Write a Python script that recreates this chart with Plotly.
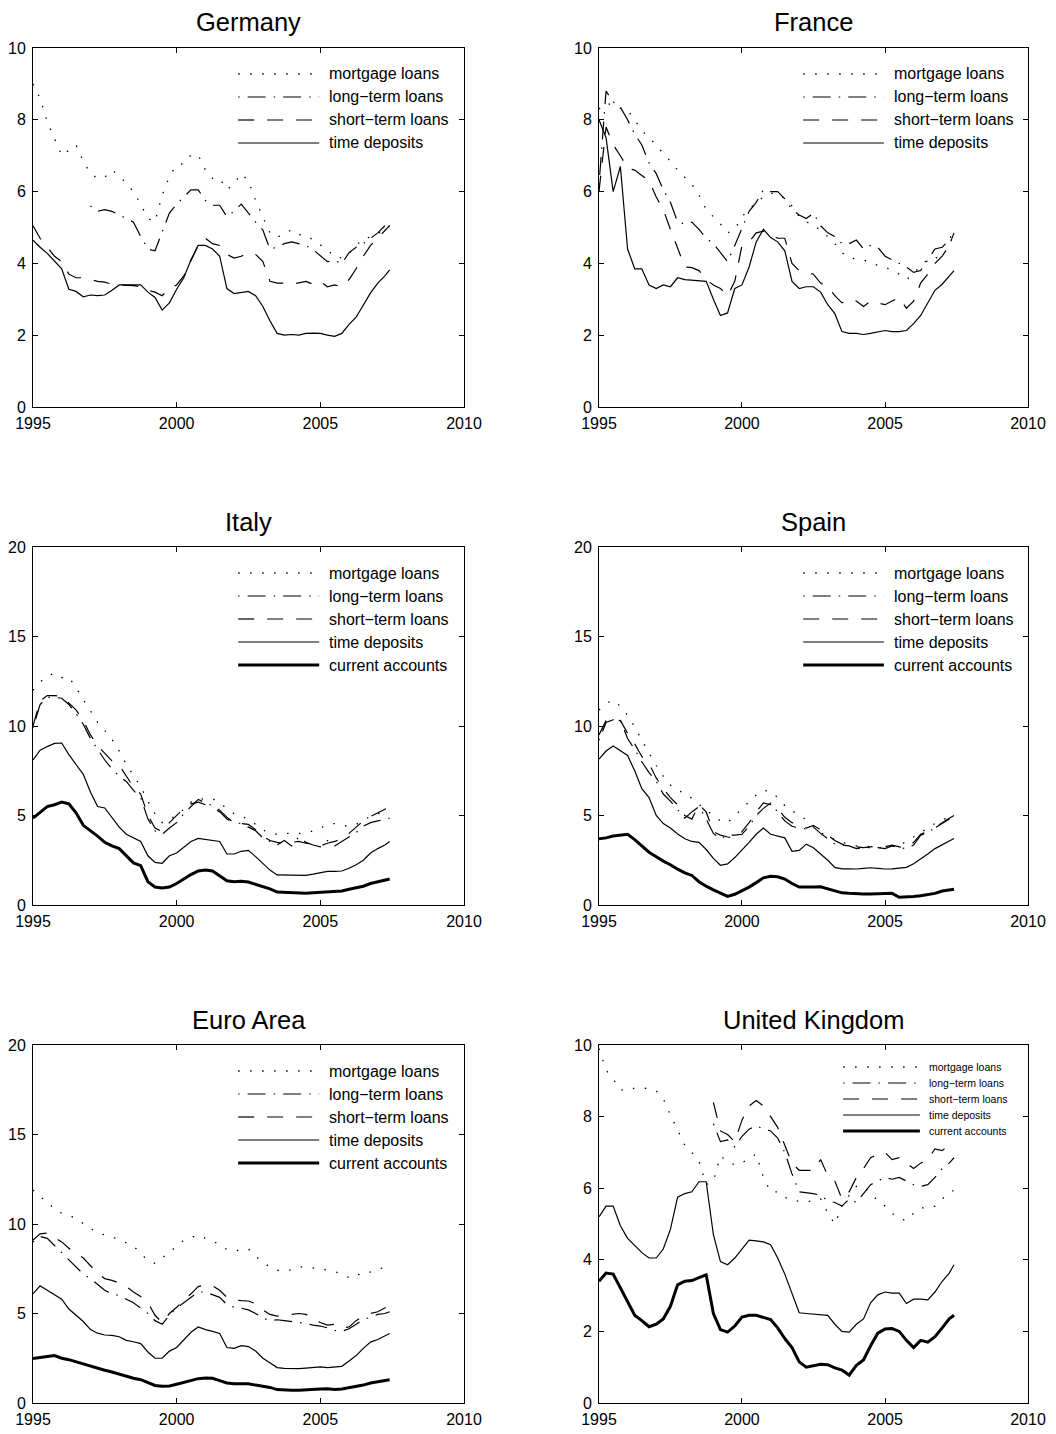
import pandas as pd
import plotly.graph_objects as go

# ---------------- data ----------------
dates = list(pd.date_range("1995-01-01", "2007-04-01", freq="QS").strftime("%Y-%m-%d")) + ["2007-06-01"]

x_tick_vals = ["1995-01-01", "2000-01-01", "2005-01-01", "2010-01-01"]
x_tick_text = ["1995", "2000", "2005", "2010"]

series_labels = {
    "mortgage": "mortgage loans",
    "long": "long\u2212term loans",
    "short": "short\u2212term loans",
    "time": "time deposits",
    "current": "current accounts",
}

# Germany
de_mortgage = [9.0, 8.6, 7.95, 7.5, 7.0, 7.15, 7.3, 6.85, 6.5, 6.37,
               6.4, 6.6, 6.45, 6.22, 6.0, 5.65, 5.25, 5.16, 5.9, 6.42,
               6.74, 6.78, 7.02, 7.02, 6.6, 6.37, 6.37, 6.05, 6.22, 6.5,
               6.3, 5.75, 5.3, 4.85, 4.72, 4.85, 4.93, 4.8, 4.79, 4.65,
               4.5, 4.38, 4.18, 4.15, 4.28, 4.5, 4.7, 4.73, 4.82, 4.97,
               5.05]
de_long = [None, None, None, None, None, None, None, None, 5.6, 5.45,
           5.5, 5.45, 5.35, 5.25, 5.15, 4.75, 4.4, 4.35, 4.9, 5.4,
           5.65, 5.85, 6.05, 6.05, 5.75, 5.62, 5.62, 5.3, 5.45, 5.65,
           5.4, 5.15, 4.93, 4.4, 4.45, 4.55, 4.6, 4.55, 4.5, 4.38,
           4.22, 4.05, 4.08, 4.0, 4.3, 4.45, 4.55, 4.7, 4.85, 5.05,
           5.1]
de_short = [5.05, 4.7, 4.45, 4.2, 4.05, 3.7, 3.6, 3.6, 3.55, 3.5,
            3.48, 3.42, 3.4, 3.4, 3.38, 3.35, 3.25, 3.2, 3.1, 3.3,
            3.4, 3.65, 4.05, 4.5, 4.7, 4.55, 4.5, 4.25, 4.15, 4.2,
            4.3, 4.25, 4.05, 3.5, 3.45, 3.45, 3.42, 3.45, 3.5, 3.42,
            3.5, 3.35, 3.4, 3.35, 3.55, 3.85, 4.2, 4.5, 4.7, 4.9,
            5.05]
de_time = [4.65, 4.45, 4.28, 4.05, 3.85, 3.28, 3.22, 3.07, 3.12, 3.1,
           3.12, 3.25, 3.4, 3.4, 3.4, 3.4, 3.2, 3.05, 2.7, 2.9,
           3.28, 3.6, 4.1, 4.5, 4.5, 4.4, 4.2, 3.3, 3.16, 3.18,
           3.22, 3.1, 2.8, 2.4, 2.05, 2.0, 2.02, 2.0, 2.05, 2.06,
           2.05, 2.0, 1.97, 2.05, 2.3, 2.5, 2.85, 3.18, 3.45, 3.65,
           3.82]

# France
fr_mortgage = [8.3, 8.47, 8.4, 8.32, 8.28, 8.0, 7.7, 7.5, 7.3, 7.05,
               6.85, 6.6, 6.4, 6.2, 5.9, 5.5, 5.3, 5.1, 4.85, 4.95,
               5.3, 5.5, 5.7, 5.85, 5.95, 5.95, 5.8, 5.6, 5.3, 5.15,
               5.1, 4.9, 4.75, 4.55, 4.3, 4.15, 4.12, 4.1, 4.0, 3.95,
               3.9, 3.8, 3.7, 3.55, 3.7, 3.95, 4.1, 4.15, 4.2, 4.5,
               4.85]
fr_long = [6.2, 8.8, 8.5, 8.35, 8.0, 7.6, 7.3, 6.8, 6.5, 6.05,
           5.7, 5.15, 5.1, 5.15, 4.95, 4.7, 4.55, 4.3, 4.05, 4.5,
           5.0, 5.45, 5.7, 6.05, 6.0, 6.0, 5.8, 5.5, 5.35, 5.25,
           5.4, 5.05, 4.85, 4.75, 4.55, 4.55, 4.65, 4.4, 4.5, 4.45,
           4.2, 4.1, 4.0, 3.9, 3.75, 3.8, 4.1, 4.4, 4.45, 4.65,
           4.95]
fr_short = [6.0, 7.8, 7.3, 7.0, 6.65, 6.6, 6.45, 6.3, 5.85, 5.5,
            4.95, 4.4, 3.9, 3.88, 3.8, 3.55, 3.4, 3.3, 3.1, 3.5,
            4.5, 4.6, 4.85, 4.9, 4.8, 4.7, 4.7, 4.0, 3.8, 3.75,
            3.7, 3.45, 3.35, 3.1, 2.9, 3.0, 2.95, 2.8, 2.95, 2.9,
            2.85, 2.95, 3.05, 2.75, 2.95, 3.45, 3.7, 4.0, 4.2, 4.5,
            4.85]
fr_time = [8.0, 7.5, 6.0, 6.7, 4.4, 3.85, 3.85, 3.4, 3.3, 3.4,
           3.35, 3.6, 3.55, 3.53, 3.5, 3.5, 3.0, 2.55, 2.62, 3.3,
           3.4, 3.9, 4.6, 4.95, 4.72, 4.6, 4.35, 3.5, 3.3, 3.35,
           3.35, 3.2, 2.85, 2.6, 2.1, 2.05, 2.05, 2.02, 2.05, 2.1,
           2.13, 2.1, 2.1, 2.13, 2.32, 2.55, 2.88, 3.25, 3.42, 3.65,
           3.8]

# Italy
it_mortgage = [12.0, 12.45, 12.8, 12.95, 12.7, 12.72, 12.15, 11.45, 10.85, 10.2,
               9.75, 9.25, 8.6, 7.85, 7.25, 6.6, 5.8, 5.1, 4.6, 4.8,
               5.0, 5.35, 5.75, 5.95, 5.9, 5.95, 5.7, 5.4, 5.1, 4.95,
               4.8, 4.5, 4.2, 4.0, 3.95, 4.0, 4.0, 4.0, 4.0, 4.15,
               4.3, 4.5, 4.55, 4.45, 4.4, 4.5, 4.75, 4.95, 5.1, 5.2,
               5.3]
it_long = [9.9, 11.2, 11.6, 11.6, 11.55, 11.2, 10.7, 10.1, 9.3, 8.7,
           8.1, 7.6, 7.2, 6.9, 6.4, 6.0, 4.8, 4.15, 3.95, 4.3,
           4.6, 5.1, 5.5, 5.9, 5.7, 5.55, 5.3, 4.9, 4.6, 4.55,
           4.35, 4.15, 3.75, 3.55, 3.35, 3.6, 3.3, 3.8, 3.5, 3.35,
           3.25, 3.6, 3.3, 3.55, 3.8, 4.05, 4.4, 4.6, 4.7, 4.8,
           4.85]
it_short = [10.0, 11.4, 11.7, 11.7, 11.65, 11.3, 10.9, 10.3, 9.5, 8.9,
            8.5, 8.05, 7.8, 7.2, 6.6, 6.2, 5.0, 4.3, 4.1, 4.6,
            5.0, 5.4, 5.65, 5.75, 5.6, 5.45, 5.2, 4.8, 4.6, 4.55,
            4.5, 4.2, 3.85, 3.6, 3.5, 3.45, 3.5, 3.55, 3.45, 3.4,
            3.3, 3.45, 3.55, 3.7, 4.0, 4.35, 4.7, 4.95, 5.15, 5.35,
            5.55]
it_time = [8.1, 8.65, 8.85, 9.03, 9.05, 8.4, 7.85, 7.3, 6.3, 5.5,
           5.42, 4.85, 4.35, 3.95, 3.75, 3.55, 2.75, 2.38, 2.33, 2.75,
           2.9, 3.2, 3.55, 3.72, 3.65, 3.62, 3.55, 2.85, 2.85, 3.0,
           3.05, 2.7, 2.3, 1.95, 1.68, 1.67, 1.65, 1.64, 1.66, 1.72,
           1.8, 1.88, 1.88, 1.9, 2.05, 2.25, 2.5, 2.9, 3.15, 3.35,
           3.55]
it_current = [4.85, 5.2, 5.5, 5.6, 5.75, 5.65, 5.15, 4.45, 4.15, 3.85,
              3.5, 3.3, 3.15, 2.75, 2.35, 2.2, 1.3, 1.0, 0.95, 1.0,
              1.2, 1.45, 1.7, 1.9, 1.95, 1.9, 1.65, 1.35, 1.3, 1.32,
              1.28, 1.15, 1.0, 0.9, 0.72, 0.7, 0.68, 0.67, 0.66, 0.68,
              0.7, 0.7, 0.72, 0.78, 0.88, 0.95, 1.05, 1.2, 1.3, 1.4,
              1.45]

# Spain
es_mortgage = [10.9, 11.25, 11.45, 11.1, 10.6, 9.95, 9.2, 8.5, 7.8, 7.2,
               6.7, 6.4, 6.25, 5.95, 5.6, 5.3, 5.0, 4.7, 4.6, 5.0,
               5.4, 5.75, 6.15, 6.4, 6.35, 6.0, 5.55, 5.25, 5.05, 4.75,
               4.4, 4.05, 3.85, 3.65, 3.5, 3.4, 3.3, 3.3, 3.25, 3.2,
               3.2, 3.3, 3.4, 3.5, 3.8, 4.05, 4.3, 4.55, 4.75, 4.9,
               5.0]
es_long = [9.2, 10.2, 10.35, 10.35, 9.3, 8.7, 8.0, 7.4, 6.9, 6.2,
           5.8, 5.3, 4.85, 5.2, 5.5, 4.8, 4.0, 3.7, 3.9, 3.9,
           3.95, 4.4, 5.0, 5.4, 5.7, 5.2, 4.7, 4.4, 4.3, 4.25,
           4.35, 4.0, 3.7, 3.4, 3.35, 3.3, 3.15, 3.2, 3.2, 3.2,
           3.15, 3.3, 3.2, 3.15, 3.35, 3.9, 4.05, 4.35, 4.6, 4.85,
           5.0]
es_short = [9.5, 10.3, 10.4, 10.3, 9.6, 9.0, 8.3, 7.9, 7.1, 6.5,
            6.0, 5.6, 5.0, 4.8, 5.6, 5.2, 4.1, 3.9, 3.8, 3.75,
            4.1, 4.6, 5.2, 5.7, 5.6, 5.4, 4.9, 4.6, 4.5, 4.3,
            4.45, 4.2, 3.9, 3.6, 3.4, 3.35, 3.25, 3.2, 3.25, 3.3,
            3.25, 3.35, 3.25, 3.2, 3.5, 3.95, 4.1, 4.3, 4.55, 4.8,
            5.05]
es_time = [8.15, 8.6, 8.88, 8.6, 8.35, 7.5, 6.5, 6.0, 5.0, 4.55,
           4.3, 3.97, 3.7, 3.55, 3.5, 3.1, 2.6, 2.22, 2.3, 2.65,
           3.05, 3.5, 3.95, 4.3, 3.95, 3.85, 3.75, 3.0, 3.05, 3.4,
           3.2, 2.85, 2.5, 2.1, 2.02, 2.02, 2.01, 2.05, 2.08, 2.05,
           2.01, 2.02, 2.05, 2.1, 2.3, 2.55, 2.85, 3.15, 3.35, 3.55,
           3.72]
es_current = [3.7, 3.75, 3.85, 3.9, 3.95, 3.65, 3.3, 2.95, 2.7, 2.45,
              2.25, 2.0, 1.8, 1.65, 1.3, 1.05, 0.85, 0.65, 0.48, 0.6,
              0.8, 1.0, 1.25, 1.52, 1.6, 1.58, 1.45, 1.2, 1.0, 0.98,
              1.0, 1.02, 0.9, 0.78, 0.68, 0.65, 0.62, 0.62, 0.62, 0.64,
              0.65, 0.65, 0.43, 0.43, 0.47, 0.52, 0.58, 0.65, 0.78, 0.85,
              0.88]

# Euro Area
ea_mortgage = [11.9, 11.5, 11.3, 10.8, 10.6, 10.5, 10.3, 10.0, 9.75, 9.5,
               9.4, 9.28, 9.12, 8.95, 8.78, 8.35, 7.95, 7.8, 8.1, 8.4,
               8.75, 9.1, 9.25, 9.38, 9.2, 9.05, 8.85, 8.57, 8.5, 8.55,
               8.6, 8.2, 7.85, 7.6, 7.42, 7.35, 7.45, 7.6, 7.6, 7.55,
               7.5, 7.42, 7.35, 7.2, 7.0, 7.2, 7.15, 7.33, 7.5, 7.55,
               7.6]
ea_long = [9.0, 9.3, 9.2, 8.8, 8.4, 8.0, 7.6, 7.2, 6.95, 6.6,
           6.3, 6.1, 6.0, 5.8, 5.6, 5.3, 5.0, 4.6, 4.4, 4.9,
           5.3, 5.6, 5.9, 6.2, 6.2, 6.05, 5.9, 5.5, 5.35, 5.3,
           5.2, 5.0, 4.75, 4.6, 4.65, 4.6, 4.55, 4.5, 4.45, 4.35,
           4.3, 4.2, 4.05, 4.0, 4.15, 4.4, 4.65, 4.8, 4.95, 5.0,
           5.1]
ea_short = [9.1, 9.45, 9.5, 9.25, 9.0, 8.65, 8.35, 8.1, 7.7, 7.25,
            6.95, 6.85, 6.7, 6.5, 6.2, 5.95, 5.6, 4.9, 4.5, 5.0,
            5.35, 5.7, 6.1, 6.5, 6.6, 6.55, 6.3, 5.9, 5.75, 5.72,
            5.7, 5.55, 5.2, 4.95, 4.85, 4.9, 4.95, 5.0, 4.95, 4.7,
            4.5, 4.35, 4.4, 4.2, 4.25, 4.6, 4.85, 5.0, 5.1, 5.3,
            5.45]
ea_time = [6.1, 6.55, 6.3, 6.05, 5.8, 5.25, 4.9, 4.55, 4.1, 3.9,
           3.8, 3.78, 3.7, 3.5, 3.42, 3.32, 2.85, 2.5, 2.5, 2.9,
           3.1, 3.5, 3.95, 4.25, 4.1, 4.0, 3.88, 3.1, 3.05, 3.2,
           3.15, 2.9, 2.5, 2.25, 1.98, 1.93, 1.92, 1.92, 1.95, 2.0,
           2.02, 1.98, 2.0, 2.05, 2.35, 2.65, 3.05, 3.4, 3.55, 3.75,
           3.88]
ea_current = [2.48, 2.52, 2.6, 2.65, 2.5, 2.42, 2.3, 2.2, 2.05, 1.92,
              1.83, 1.73, 1.6, 1.5, 1.38, 1.3, 1.12, 0.98, 0.93, 0.95,
              1.05, 1.15, 1.27, 1.36, 1.4, 1.38, 1.25, 1.12, 1.08, 1.08,
              1.08, 1.0, 0.93, 0.87, 0.75, 0.72, 0.71, 0.71, 0.72, 0.75,
              0.78, 0.8, 0.76, 0.78, 0.85, 0.92, 1.0, 1.12, 1.2, 1.27,
              1.3]

# United Kingdom
uk_mortgage = [9.9, 9.3, 9.05, 8.75, 8.72, 8.8, 8.8, 8.78, 8.72, 8.5,
               8.05, 7.6, 7.2, 7.0, 6.75, 6.1, 6.2, 6.9, 6.75, 6.65,
               6.7, 6.85, 6.95, 6.3, 5.9, 5.9, 5.75, 5.65, 5.63, 5.63,
               5.63, 5.7, 5.3, 5.0, 5.5, 5.8, 6.05, 6.05, 5.85, 5.65,
               5.5, 5.3, 5.15, 5.1, 5.3, 5.45, 5.45, 5.5, 5.7, 5.85,
               5.95]
uk_long = [None, None, None, None, None, None, None, None, None, None,
           None, None, None, None, None, None, 7.8, 7.3, 7.35, 7.15,
           7.45, 7.65, 7.75, 7.65, 7.6, 7.4, 7.0, 6.4, 5.9, 5.88,
           5.85, 5.8, 5.65, 5.6, 5.5, 5.7, 5.6, 5.85, 6.1, 6.2,
           6.3, 6.25, 6.3, 6.2, 6.1, 6.05, 6.1, 6.3, 6.55, 6.7,
           6.85]
uk_short = [None, None, None, None, None, None, None, None, None, None,
            None, None, None, None, None, None, 8.4, 7.6, 7.5, 7.3,
            7.9, 8.3, 8.45, 8.3, 8.0, 7.7, 7.2, 6.7, 6.5, 6.5,
            6.5, 6.8, 6.35, 6.2, 5.7, 5.9, 6.3, 6.55, 6.85, 6.95,
            7.0, 6.8, 6.85, 6.7, 6.55, 6.7, 6.8, 7.1, 7.05, 7.2,
            7.2]
uk_time = [5.2, 5.5, 5.5, 4.95, 4.6, 4.4, 4.2, 4.05, 4.05, 4.3,
           4.85, 5.75, 5.85, 5.9, 6.18, 6.18, 4.7, 3.95, 3.86, 4.05,
           4.3, 4.55, 4.53, 4.5, 4.42, 4.05, 3.6, 3.05, 2.52, 2.5,
           2.48, 2.47, 2.45, 2.2, 2.0, 1.98, 2.2, 2.35, 2.8, 3.02,
           3.1, 3.07, 3.07, 2.78, 2.9, 2.9, 2.88, 3.1, 3.4, 3.63,
           3.86]
uk_current = [3.4, 3.63, 3.6, 3.2, 2.82, 2.45, 2.3, 2.13, 2.2, 2.35,
              2.7, 3.3, 3.4, 3.42, 3.5, 3.58, 2.5, 2.05, 1.98, 2.15,
              2.4, 2.45, 2.45, 2.4, 2.33, 2.1, 1.8, 1.55, 1.15, 1.0,
              1.05, 1.08, 1.07, 0.98, 0.92, 0.78, 1.05, 1.2, 1.6, 1.95,
              2.07, 2.08, 2.0, 1.75, 1.55, 1.75, 1.7, 1.85, 2.1, 2.35,
              2.45]

# ---------------- styles / layout ----------------
FONT = "Liberation Sans, Arial, Helvetica, sans-serif"
W, H = 1056, 1434

styles = {
    "mortgage": dict(color="black", width=1.3, dash="1.5px,10.5px"),
    "long": dict(color="black", width=1.2, dash="1.5px,8px,18px,8px"),
    "short": dict(color="black", width=1.2, dash="16px,13px"),
    "time": dict(color="black", width=1.2, dash="solid"),
    "current": dict(color="black", width=3.0, dash="solid"),
}

col_px = [(33, 464), (599, 1028)]
row_px = [(48, 407), (547, 905), (1045, 1403)]

panels = [
    dict(title="Germany", row=0, col=0, ymax=10, ystep=2,
         data=dict(mortgage=de_mortgage, long=de_long, short=de_short, time=de_time), small=False),
    dict(title="France", row=0, col=1, ymax=10, ystep=2,
         data=dict(mortgage=fr_mortgage, long=fr_long, short=fr_short, time=fr_time), small=False),
    dict(title="Italy", row=1, col=0, ymax=20, ystep=5,
         data=dict(mortgage=it_mortgage, long=it_long, short=it_short, time=it_time, current=it_current), small=False),
    dict(title="Spain", row=1, col=1, ymax=20, ystep=5,
         data=dict(mortgage=es_mortgage, long=es_long, short=es_short, time=es_time, current=es_current), small=False),
    dict(title="Euro Area", row=2, col=0, ymax=20, ystep=5,
         data=dict(mortgage=ea_mortgage, long=ea_long, short=ea_short, time=ea_time, current=ea_current), small=False),
    dict(title="United Kingdom", row=2, col=1, ymax=10, ystep=2,
         data=dict(mortgage=uk_mortgage, long=uk_long, short=uk_short, time=uk_time, current=uk_current), small=True),
]

fig = go.Figure()
layout = dict(
    width=W, height=H,
    margin=dict(l=0, r=0, t=0, b=0, autoexpand=False),
    paper_bgcolor="white", plot_bgcolor="white",
    showlegend=False,
    font=dict(family=FONT, color="black"),
)
shapes = []
annotations = []

for n, p in enumerate(panels, start=1):
    x0, x1 = col_px[p["col"]]
    y0, y1 = row_px[p["row"]]
    xs = "" if n == 1 else str(n)
    xd = [x0 / W, x1 / W]
    yd = [1 - y1 / H, 1 - y0 / H]
    plot_h = y1 - y0

    layout[f"xaxis{xs}"] = dict(
        domain=xd, anchor=f"y{xs}", type="date", automargin=False,
        range=["1995-01-01", "2010-01-01"],
        tickmode="array", tickvals=x_tick_vals, ticktext=x_tick_text,
        ticks="inside", ticklen=5, tickwidth=1, tickcolor="black",
        ticklabelstandoff=2,
        showline=True, linecolor="black", linewidth=1, mirror="ticks",
        showgrid=False, zeroline=False,
        tickfont=dict(family=FONT, size=16, color="black"),
    )
    layout[f"yaxis{xs}"] = dict(
        domain=yd, anchor=f"x{xs}", automargin=False,
        range=[0, p["ymax"]],
        tickmode="array", tickvals=list(range(0, p["ymax"] + 1, p["ystep"])),
        ticks="inside", ticklen=5, tickwidth=1, tickcolor="black",
        ticklabelstandoff=3,
        showline=True, linecolor="black", linewidth=1, mirror="ticks",
        showgrid=False, zeroline=False,
        tickfont=dict(family=FONT, size=16, color="black"),
    )

    for key, vals in p["data"].items():
        fig.add_trace(go.Scatter(
            x=dates, y=vals, mode="lines", name=series_labels[key],
            line=styles[key], connectgaps=False,
            xaxis=f"x{xs}", yaxis=f"y{xs}", hoverinfo="x+y+name",
        ))

    # title
    annotations.append(dict(
        text=p["title"], xref=f"x{xs} domain", yref=f"y{xs} domain",
        x=0.5, y=1 + 25.5 / plot_h, xanchor="center", yanchor="middle",
        showarrow=False, font=dict(family=FONT, size=25.5, color="black"),
    ))

    # in-plot legend (line samples + labels)
    if p["small"]:
        lx0, lx1, tx, top, step, fs = 0.569, 0.748, 0.765, 22, 16, 10.5
    else:
        lx0, lx1, tx, top, step, fs = 0.476, 0.664, 0.682, 26, 23, 16
    for k, key in enumerate(p["data"].keys()):
        yy = 1 - (top + k * step) / plot_h
        shapes.append(dict(
            type="line", xref=f"x{xs} domain", yref=f"y{xs} domain",
            x0=lx0, x1=lx1, y0=yy, y1=yy, line=styles[key],
        ))
        annotations.append(dict(
            text=series_labels[key], xref=f"x{xs} domain", yref=f"y{xs} domain",
            x=tx, y=yy, xanchor="left", yanchor="middle", showarrow=False,
            font=dict(family=FONT, size=fs, color="black"),
        ))

layout["shapes"] = shapes
layout["annotations"] = annotations
fig.update_layout(**layout)

fig.write_html("out.html", config={"displayModeBar": False},
               post_script="document.body.style.margin='0';")
